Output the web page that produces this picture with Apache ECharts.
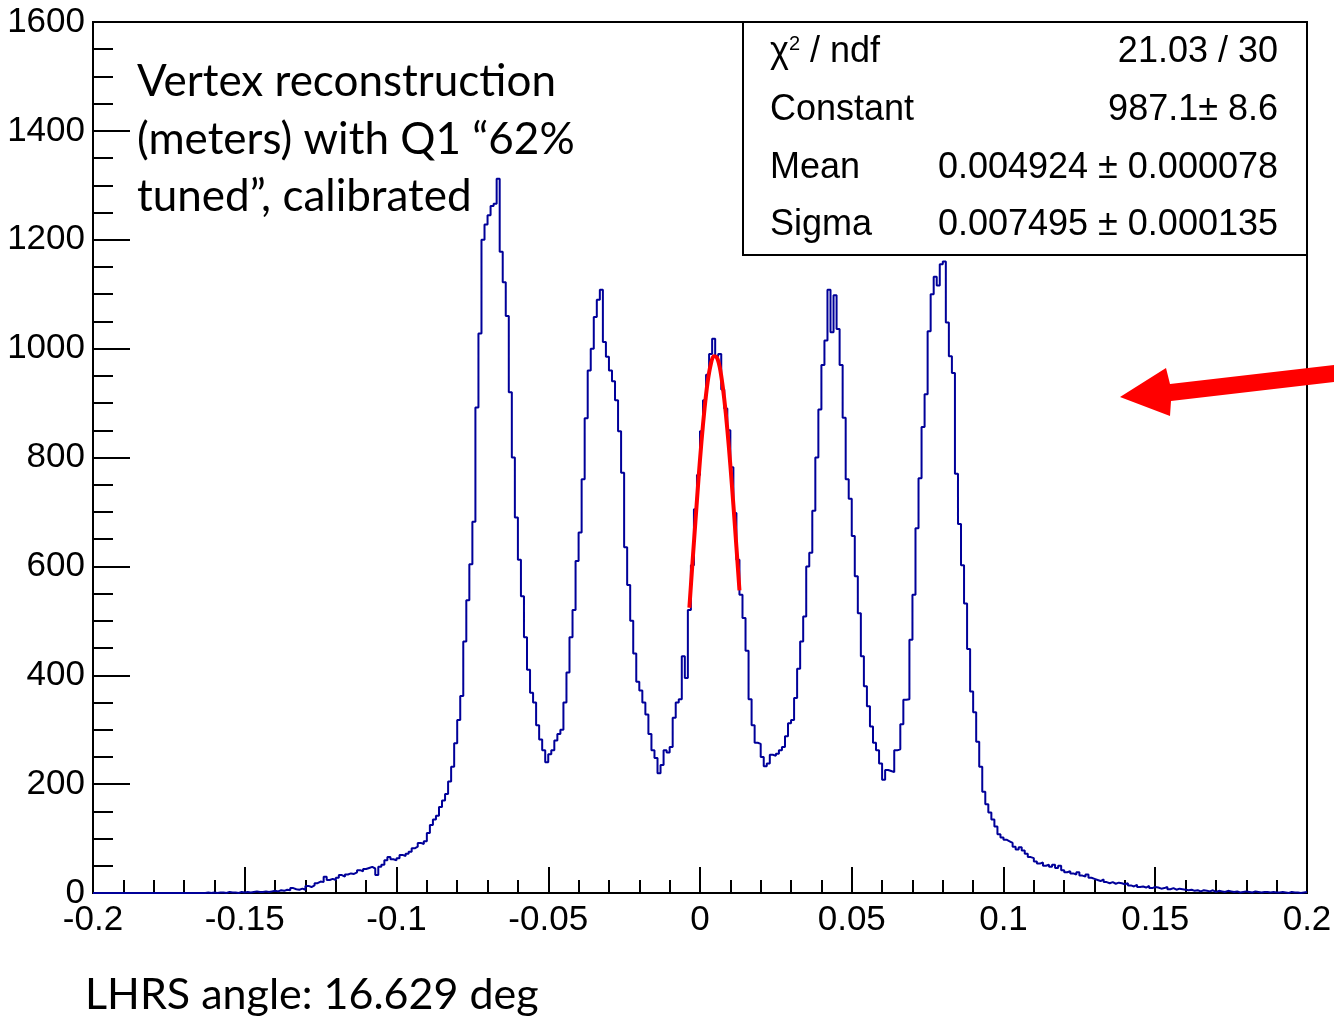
<!DOCTYPE html>
<html><head><meta charset="utf-8">
<script src="https://cdn.jsdelivr.net/npm/echarts@6/dist/echarts.min.js"></script>
<style>html,body{margin:0;padding:0;background:#fff}#c{width:1334px;height:1017px}</style>
</head><body><div id="c"></div>
<script>
// Histogram: 400 bins from -0.2 to 0.2
const xMin = -0.2;
const xMax = 0.2;
const binWidth = 0.001;
const counts = [
0,0,0,0,0,0,0,0,0,0,
0,0,0,0,0,0,0,0,0,0,
0,0,0,0,0,0,0,0,0,0,
0,0,0,0,0,0,0,1,0,1,
0,1,1,0,2,1,1,0,2,1,
2,1,2,3,2,2,3,2,3,4,
3,5,4,6,5,9,7,6,8,6,
13,11,14,18,21,20,30,24,26,24,
28,33,30,34,36,35,38,42,40,44,
46,48,45,33,48,52,60,66,62,60,
64,70,68,72,76,82,85,92,90,95,
110,125,135,142,158,170,182,205,232,275,
318,362,462,538,604,682,892,1028,1200,1228,
1245,1262,1266,1312,1178,1122,1060,920,800,690,
612,545,470,410,368,350,308,282,262,240,
255,262,280,292,300,350,405,470,520,610,
662,760,872,960,1000,1058,1090,1108,1012,985,
960,940,905,848,772,635,566,500,440,388,
372,350,328,292,262,248,220,235,262,258,
268,322,350,356,435,395,520,602,705,768,
848,905,952,990,1018,986,990,925,890,850,
782,698,612,548,505,445,356,308,276,274,
250,233,238,254,252,256,262,268,288,312,
318,358,412,462,508,600,625,702,800,888,
970,1015,1108,1030,1098,1036,970,873,760,724,
656,582,514,435,380,343,306,276,262,238,
208,226,224,222,262,264,310,355,356,465,
548,670,762,856,916,1032,1100,1132,1116,1155,
1160,1048,986,955,770,678,602,532,448,370,
332,278,232,186,163,148,135,122,108,102,
98,95,92,85,80,84,78,72,66,64,
58,54,56,50,52,48,52,46,50,42,
38,40,36,34,38,32,30,34,28,26,
24,22,25,20,18,20,17,19,18,16,
18,14,12,15,11,12,10,13,9,11,
10,8,9,11,7,9,6,8,7,6,
5,6,4,5,3,5,4,3,5,2,
4,3,2,4,3,2,3,1,2,3,
2,1,3,2,1,2,2,1,2,1,
1,2,1,0,2,1,1,0,1,2
];
// Gaussian fit curve
const fitX = [-0.0035,-0.0025,-0.0015,-0.0005,0.0005,0.0015,0.0025,0.0035,0.0045,0.0055,0.0065,0.0075,0.0085,0.0095,0.0105,0.0115,0.0125,0.013];
const fitY = [524,605,683,760,830,890,938,970,986,984,966,930,881,820,750,675,596,556];
// Stats box
const statsLabels = ['Constant','Mean','Sigma'];
const statsValues = ['21.03 / 30','987.1\u00b1 8.6','0.004924 \u00b1 0.000078','0.007495 \u00b1 0.000135'];
const annotationLines = ['Vertex reconstruction','(meters) with Q1 \u201c62%','tuned\u201d, calibrated'];
const footerText = 'LHRS angle: 16.629 deg';

const histData = counts.map((v, i) => [xMin + i * binWidth, v]);
histData.push([xMax, counts[counts.length - 1]]);
const fitData = fitX.map((x, i) => [x, fitY[i]]);

const chart = echarts.init(document.getElementById('c'), null, {renderer: 'canvas'});
const labelFont = 'Liberation Sans, Arial, Helvetica, sans-serif';
const noteFont = 'Lato, Open Sans, sans-serif';

const graphics = [];
graphics.push({type: 'rect', z: 100, shape: {x: 743, y: 22, width: 564, height: 233},
  style: {fill: '#fff', stroke: '#000', lineWidth: 2}});
const rowY = [52, 110, 168, 225];
graphics.push({type: 'text', z: 101, x: 770, y: rowY[0], style: {
  text: '{c|\u03c7}{s|2}{c| / ndf}', verticalAlign: 'middle', align: 'left',
  rich: {c: {fontSize: 36, fontFamily: labelFont, fill: '#000'}, s: {fontSize: 20, fontFamily: labelFont, fill: '#000', verticalAlign: 'top', padding: [0,0,14,0]}}
}});
statsLabels.forEach((t, k) => graphics.push({type: 'text', z: 101, x: 770, y: rowY[k + 1], style: {
  text: t, font: '36px ' + labelFont, fill: '#000', verticalAlign: 'middle', align: 'left'}}));
statsValues.forEach((t, k) => graphics.push({type: 'text', z: 101, x: 1278, y: rowY[k], style: {
  text: t, font: '36px ' + labelFont, fill: '#000', verticalAlign: 'middle', align: 'right'}}));
const noteY = [82, 140, 197];
annotationLines.forEach((t, k) => graphics.push({type: 'text', z: 101, x: 137, y: noteY[k], style: {
  text: t, font: '44px ' + noteFont, fill: '#000', verticalAlign: 'middle', align: 'left'}}));
graphics.push({type: 'text', z: 101, x: 85, y: 995, style: {
  text: footerText, font: '43px ' + noteFont, fill: '#000', verticalAlign: 'middle', align: 'left'}});
graphics.push({type: 'polygon', z: 102, shape: {points: [[1334,365],[1170,384],[1166,368],[1120,397],[1170,416],[1171,401],[1334,382]]},
  style: {fill: '#ff0000'}});

chart.setOption({
  animation: false,
  backgroundColor: '#fff',
  grid: {left: 93, right: 27, top: 22, bottom: 124, show: true, borderColor: '#000', borderWidth: 2,
    backgroundColor: 'transparent', containLabel: false, outerBoundsMode: 'none'},
  xAxis: {
    type: 'value', min: xMin, max: xMax, interval: 0.05,
    axisLine: {show: true, onZero: false, lineStyle: {color: '#000', width: 2}},
    axisTick: {show: true, inside: true, length: 26, lineStyle: {color: '#000', width: 2}},
    minorTick: {show: true, splitNumber: 5, length: 13, lineStyle: {color: '#000', width: 2}},
    splitLine: {show: false},
    axisLabel: {fontSize: 35, fontFamily: labelFont, color: '#000', margin: 10,
      formatter: v => String(parseFloat(v.toFixed(3)))}
  },
  yAxis: {
    type: 'value', min: 0, max: 1600, interval: 200,
    axisLine: {show: true, onZero: false, lineStyle: {color: '#000', width: 2}},
    axisTick: {show: true, inside: true, length: 37, lineStyle: {color: '#000', width: 2}},
    minorTick: {show: true, splitNumber: 4, length: 20, lineStyle: {color: '#000', width: 2}},
    splitLine: {show: false},
    axisLabel: {fontSize: 35, fontFamily: labelFont, color: '#000', margin: 8, formatter: v => String(v)}
  },
  series: [
    {type: 'line', data: histData, step: 'end', symbol: 'none', lineStyle: {color: '#000099', width: 2}, z: 3},
    {type: 'line', data: fitData, smooth: 0.3, symbol: 'none', lineStyle: {color: '#ff0000', width: 4}, z: 4}
  ],
  graphic: graphics
});
</script></body></html>
